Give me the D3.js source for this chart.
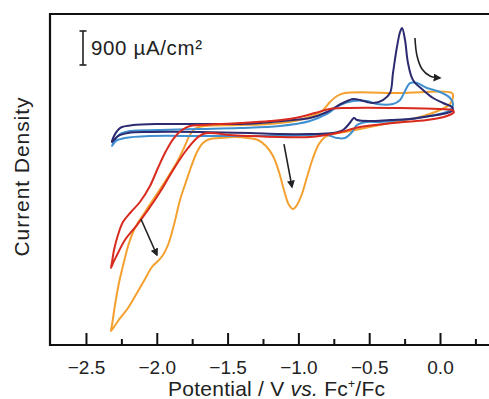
<!DOCTYPE html>
<html><head><meta charset="utf-8">
<script src="https://cdn.jsdelivr.net/npm/d3@7"></script>
<style>
body{margin:0;background:#fff;}
svg{display:block;}
text{font-family:"Liberation Sans",Arial,Helvetica,sans-serif;fill:#222;}
</style>
</head><body>
<svg id="c" width="489" height="399"></svg>
<script>
// ---- data: potential (V vs Fc+/Fc), current density (µA/cm², relative) ----
const majorTicks = [-2.5, -2.0, -1.5, -1.0, -0.5, 0.0];
const minorTicks = [-2.25, -1.75, -1.25, -0.75, -0.25, 0.25];
const xTitle = ["Potential / V ", "vs.", " Fc", "+", "/Fc"];
const yTitle = "Current Density";
const scaleBarValue = 900;
const scaleBarLabel = "900 µA/cm²";

const navy = [[-2.316,-371],[-2.302,-212],[-2.274,-53],[-2.246,26],[-2.168,79],[-1.977,106],[-1.695,106],[-1.412,106],[-1.271,132],[-1.038,212],[-0.918,265],[-0.798,424],[-0.727,582],[-0.685,662],[-0.614,768],[-0.565,741],[-0.516,688],[-0.473,662],[-0.403,741],[-0.353,926],[-0.332,1456],[-0.304,2144],[-0.282,2541],[-0.268,2647],[-0.247,2329],[-0.226,1721],[-0.191,1271],[-0.120,1006],[-0.049,794],[0.021,662],[0.085,556],[0.092,476],
  [0.049,397],[-0.071,318],[-0.212,238],[-0.353,212],[-0.494,185],[-0.586,212],[-0.607,265],[-0.643,106],[-0.685,-53],[-0.756,-132],[-0.918,-159],[-1.130,-159],[-1.342,-132],[-1.695,-106],[-2.048,-106],[-2.203,-132],[-2.274,-212]];

const blue = [[-2.316,-476],[-2.295,-318],[-2.260,-159],[-2.189,-79],[-1.977,-53],[-1.695,-26],[-1.412,0],[-1.130,53],[-0.918,185],[-0.798,371],[-0.706,609],[-0.614,715],[-0.516,715],[-0.445,635],[-0.332,635],[-0.282,741],[-0.247,980],[-0.212,1191],[-0.162,1191],[-0.092,1059],[0.000,953],[0.071,794],[0.092,635],
  [0.071,476],[-0.071,318],[-0.282,212],[-0.424,159],[-0.516,159],[-0.586,79],[-0.621,-106],[-0.671,-265],[-0.727,-265],[-0.798,-185],[-0.918,-185],[-1.130,-212],[-1.412,-212],[-1.695,-212],[-2.048,-212],[-2.225,-265],[-2.288,-344]];

const red = [[0.099,424],[0.049,318],[-0.092,212],[-0.332,132],[-0.565,26],[-0.727,-132],[-0.918,-238],[-1.130,-238],[-1.342,-212],[-1.483,-185],[-1.624,-132],[-1.674,-159],[-1.716,-265],[-1.801,-635],[-1.893,-1165],[-1.977,-1694],[-2.062,-2171],[-2.140,-2568],[-2.225,-2965],[-2.281,-3362],[-2.309,-3574],[-2.323,-3706],
  [-2.316,-3547],[-2.302,-3229],[-2.274,-2832],[-2.239,-2488],[-2.182,-2223],[-2.119,-1959],[-2.048,-1535],[-1.992,-1059],[-1.935,-609],[-1.879,-265],[-1.822,-53],[-1.766,53],[-1.695,79],[-1.412,132],[-1.201,185],[-1.024,265],[-0.883,397],[-0.777,503],[-0.671,529],[-0.282,529],[0.000,503],[0.085,476]];

const orange = [[0.092,821],[0.071,635],[0.000,476],[-0.141,291],[-0.282,185],[-0.424,79],[-0.565,-26],[-0.671,-106],[-0.756,-159],[-0.812,-238],[-0.855,-424],[-0.897,-794],[-0.939,-1297],[-0.975,-1747],[-1.010,-2038],[-1.038,-2144],[-1.066,-2038],[-1.102,-1641],[-1.137,-1165],[-1.179,-741],[-1.229,-476],[-1.285,-318],[-1.356,-265],[-1.448,-238],[-1.554,-265],[-1.624,-291],[-1.674,-397],[-1.716,-635],[-1.758,-1032],[-1.794,-1429],[-1.836,-1906],[-1.879,-2568],[-1.921,-3097],[-1.956,-3362],[-1.992,-3521],[-2.034,-3679],[-2.083,-3997],[-2.140,-4368],[-2.203,-4765],[-2.274,-5109],[-2.323,-5373],
  [-2.316,-5215],[-2.295,-4685],[-2.267,-4103],[-2.232,-3547],[-2.196,-3044],[-2.154,-2647],[-2.083,-2223],[-1.999,-1747],[-1.921,-1297],[-1.857,-900],[-1.808,-529],[-1.766,-185],[-1.723,0],[-1.660,53],[-1.412,79],[-1.201,106],[-1.024,185],[-0.904,318],[-0.833,450],[-0.777,688],[-0.727,847],[-0.671,926],[-0.282,926],[0.085,926]];

const arrowSweep = [[-0.177,2382],[-0.162,1906],[-0.127,1562],[-0.071,1376],[0.000,1324]];
const arrowPeak = [[-1.102,-424],[-1.045,-1562]];
const arrowShoulder = [[-2.112,-2409],[-1.999,-3362]];

const series = [
  {name:"orange", pts:orange, color:"#f4a02f"},
  {name:"blue", pts:blue, color:"#4090d0"},
  {name:"navy", pts:navy, color:"#2c2b70"},
  {name:"red", pts:red, color:"#d92a1f"}
];

// ---- chart ----
const svg = d3.select("#c");
const x = d3.scaleLinear().domain([-2.754, 0.346]).range([50, 489]);
const y = d3.scaleLinear().domain([-5744, 3018]).range([345, 14]);

const line = d3.line().x(d => x(d[0])).y(d => y(d[1])).curve(d3.curveCatmullRomClosed.alpha(0.5));
series.forEach(s => {
  svg.append("path").attr("d", line(s.pts)).attr("fill", "none")
    .attr("stroke", s.color).attr("stroke-width", 2).attr("stroke-linejoin", "round");
});

// arrows
const defs = svg.append("defs");
defs.append("marker").attr("id", "ah").attr("viewBox", "0 0 10 10").attr("refX", 8).attr("refY", 5)
  .attr("markerWidth", 5).attr("markerHeight", 5).attr("orient", "auto")
  .append("path").attr("d", "M0,0 L10,5 L0,10 Z").attr("fill", "#222");
const aline = d3.line().x(d => x(d[0])).y(d => y(d[1])).curve(d3.curveCatmullRom.alpha(0.5));
[arrowSweep, arrowPeak, arrowShoulder].forEach(a => {
  svg.append("path").attr("d", aline(a)).attr("fill", "none").attr("stroke", "#222")
    .attr("stroke-width", 1.6).attr("marker-end", "url(#ah)");
});

// frame
svg.append("line").attr("x1", 49).attr("x2", 489).attr("y1", 14).attr("y2", 14).attr("stroke", "#111").attr("stroke-width", 2.2);
svg.append("line").attr("x1", 50).attr("x2", 50).attr("y1", 13).attr("y2", 346).attr("stroke", "#111").attr("stroke-width", 2.2);

// x axis
const gx = svg.append("g").attr("transform", "translate(0,345)");
gx.call(d3.axisBottom(x).tickValues(majorTicks).tickSize(-12).tickPadding(16).tickFormat(d3.format(".1f")));
gx.select(".domain").remove();
gx.selectAll(".tick line").attr("stroke", "#111").attr("stroke-width", 2);
gx.selectAll(".tick text").style("font-size", "19px").style("fill", "#222").attr("font-family", null);
const gm = svg.append("g").attr("transform", "translate(0,345)");
gm.call(d3.axisBottom(x).tickValues(minorTicks).tickSize(-6).tickFormat(""));
gm.select(".domain").remove();
gm.selectAll(".tick line").attr("stroke", "#111").attr("stroke-width", 2);
svg.append("line").attr("x1", 49).attr("x2", 489).attr("y1", 345).attr("y2", 345).attr("stroke", "#111").attr("stroke-width", 2.2);

// x title
const xt = svg.append("text").attr("x", 168).attr("y", 396).style("font-size", "21px")
  .attr("textLength", 217).attr("lengthAdjust", "spacing");
xt.append("tspan").text(xTitle[0]);
xt.append("tspan").text(xTitle[1]).style("font-style", "italic");
xt.append("tspan").text(xTitle[2]);
xt.append("tspan").text(xTitle[3]).style("font-size", "12px").attr("dy", -8);
xt.append("tspan").text(xTitle[4]).attr("dy", 8);

// y title
svg.append("text").attr("transform", "translate(29,177) rotate(-90)").attr("text-anchor", "middle")
  .style("font-size", "21px").attr("textLength", 159).attr("lengthAdjust", "spacing").text(yTitle);

// scale bar
const sbV = -2.521, sbTop = 2568;
const sx = x(sbV), sy1 = y(sbTop), sy2 = y(sbTop - scaleBarValue);
svg.append("line").attr("x1", sx).attr("x2", sx).attr("y1", sy1).attr("y2", sy2).attr("stroke", "#222").attr("stroke-width", 1.6);
[sy1, sy2].forEach(v => svg.append("line").attr("x1", sx - 3.5).attr("x2", sx + 3.5).attr("y1", v).attr("y2", v).attr("stroke", "#222").attr("stroke-width", 1.6));
svg.append("text").attr("x", 91).attr("y", 55).style("font-size", "20.5px")
  .attr("textLength", 111).attr("lengthAdjust", "spacing").text(scaleBarLabel);
</script>
</body></html>
